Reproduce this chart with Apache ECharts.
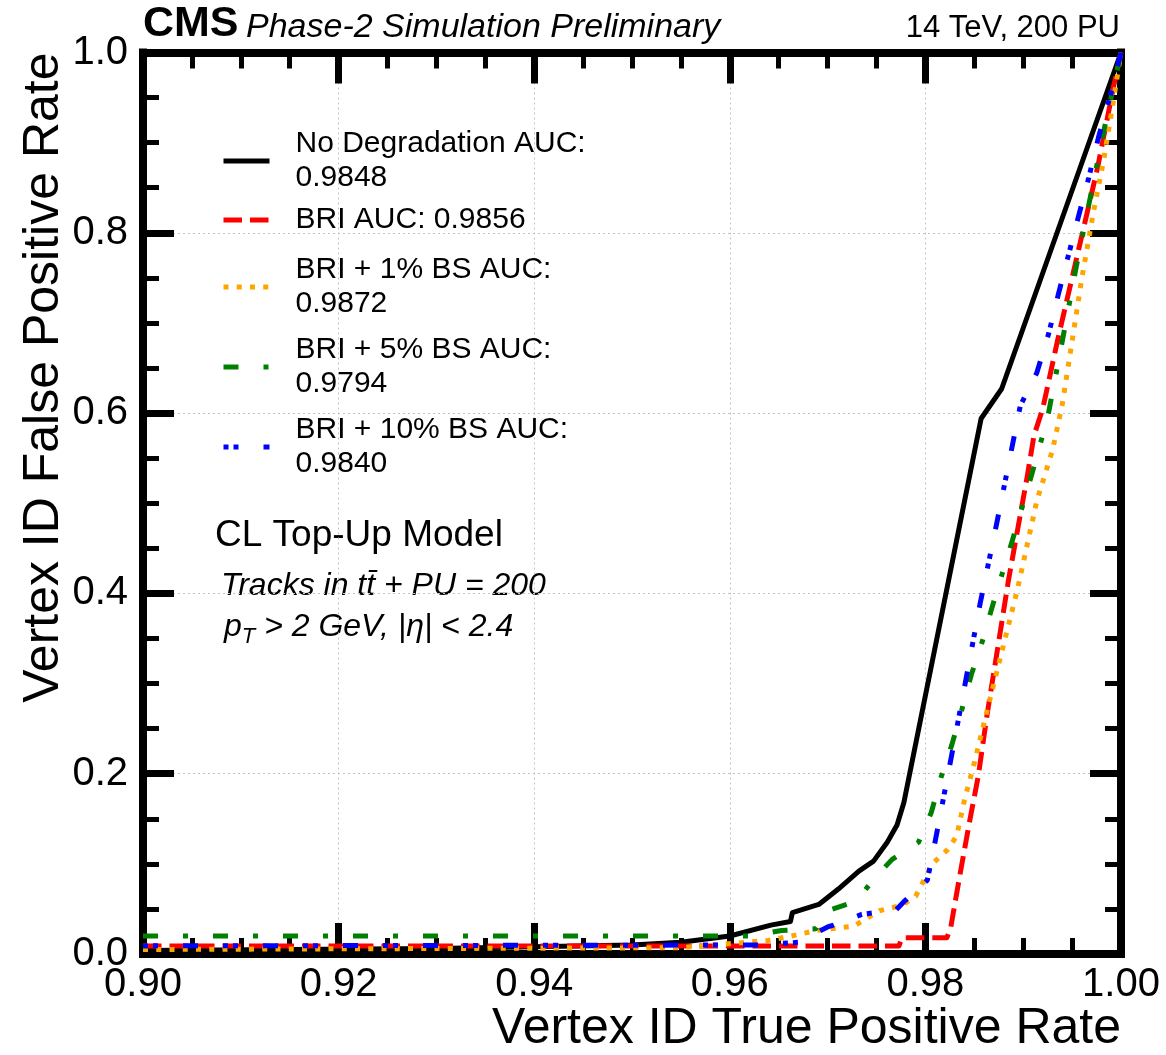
<!DOCTYPE html>
<html>
<head>
<meta charset="utf-8">
<title>Vertex ID ROC curves</title>
<script src="https://cdn.jsdelivr.net/npm/echarts@6/dist/echarts.min.js"></script>
<style>
  html, body { margin: 0; padding: 0; background: #ffffff; }
  #chart { width: 1166px; height: 1055px; }
</style>
</head>
<body>
<div id="chart"></div>
<script>
// ROC curves: vertex ID false positive rate vs. true positive rate

// Axis ticks
const xTicks = [0.90, 0.92, 0.94, 0.96, 0.98, 1.00];
const yTicks = [0.0, 0.2, 0.4, 0.6, 0.8, 1.0];

// Legend text
const curveNames = ['No Degradation', 'BRI', 'BRI + 1% BS', 'BRI + 5% BS', 'BRI + 10% BS'];
const aucValues = ['0.9848', '0.9856', '0.9872', '0.9794', '0.9840'];

// No degradation
const tprNoDeg = [0.900, 0.930, 0.950, 0.955, 0.960, 0.9642, 0.9662, 0.9664, 0.9691, 0.9711, 0.9732, 0.9747, 0.9761, 0.9771, 0.9778, 0.9857, 0.9878, 1.000];
const fprNoDeg = [0.004, 0.006, 0.010, 0.013, 0.020, 0.032, 0.036, 0.046, 0.055, 0.072, 0.092, 0.103, 0.124, 0.143, 0.168, 0.594, 0.627, 1.000];

// BRI
const tprBri = [0.900, 0.960, 0.9773, 0.9776, 0.9822, 0.9826, 0.9835, 0.9845, 0.9854, 0.9863, 0.9885, 0.9904, 0.9911, 0.9920, 0.9935, 0.9957, 0.9976, 0.9992, 1.000];
const fprBri = [0.009, 0.009, 0.009, 0.018, 0.018, 0.030, 0.086, 0.146, 0.197, 0.265, 0.415, 0.529, 0.575, 0.605, 0.680, 0.783, 0.872, 0.960, 1.000];

// BRI + 1% BS
const tprBri1 = [0.900, 0.955, 0.9639, 0.9663, 0.9688, 0.9727, 0.9753, 0.9776, 0.9790, 0.9807, 0.9823, 0.9832, 0.9840, 0.9850, 0.9864, 0.9894, 0.9914, 0.9930, 0.9940, 0.9950, 0.9960, 0.9972, 0.9982, 0.9991, 1.000];
const fprBri1 = [0.005, 0.007, 0.015, 0.020, 0.026, 0.031, 0.048, 0.054, 0.064, 0.100, 0.116, 0.131, 0.171, 0.212, 0.274, 0.404, 0.503, 0.559, 0.610, 0.680, 0.750, 0.824, 0.879, 0.938, 1.000];

// BRI + 5% BS
const tprBri5 = [0.900, 0.962, 0.9653, 0.9688, 0.9700, 0.9730, 0.9747, 0.9766, 0.9793, 0.9806, 0.9816, 0.9827, 0.9837, 0.9847, 0.9858, 0.9868, 0.9878, 0.9889, 0.9909, 0.9925, 0.9940, 0.9954, 0.9968, 0.9983, 1.000];
const fprBri5 = [0.020, 0.020, 0.026, 0.028, 0.048, 0.059, 0.083, 0.105, 0.124, 0.157, 0.196, 0.232, 0.270, 0.310, 0.346, 0.384, 0.420, 0.459, 0.533, 0.595, 0.680, 0.761, 0.836, 0.916, 1.000];

// BRI + 10% BS
const tprBri10 = [0.900, 0.963, 0.967, 0.970, 0.9706, 0.9735, 0.9770, 0.9778, 0.9802, 0.9810, 0.9825, 0.9840, 0.9856, 0.9873, 0.9897, 0.9914, 0.9926, 0.9936, 0.9946, 0.9956, 0.9967, 0.9977, 0.9988, 1.000];
const fprBri10 = [0.009, 0.010, 0.013, 0.030, 0.032, 0.044, 0.049, 0.058, 0.082, 0.125, 0.210, 0.296, 0.389, 0.478, 0.608, 0.645, 0.688, 0.732, 0.774, 0.816, 0.861, 0.906, 0.948, 1.000];

const FONT = '"Liberation Sans", Arial, Helvetica, sans-serif';
const LW = 5;

const curves = [
  { tpr: tprNoDeg, fpr: fprNoDeg, color: '#000000', dash: 'solid' },
  { tpr: tprBri,   fpr: fprBri,   color: '#ff0000', dash: [18.5, 8] },
  { tpr: tprBri1,  fpr: fprBri1,  color: '#ffa500', dash: [5, 8.25] },
  { tpr: tprBri5,  fpr: fprBri5,  color: '#008000', dash: [15, 25, 5, 25] },
  { tpr: tprBri10, fpr: fprBri10, color: '#0000ff', dash: [5, 5, 5, 25, 15, 25] }
];
curves.forEach((c, i) => {
  c.name = curveNames[i];
  c.label = i === 1 ? curveNames[i] + ' AUC: ' + aucValues[i]
                    : curveNames[i] + ' AUC:\n' + aucValues[i];
});

// top edge of each legend entry
const legendTops = [127, 203, 253, 333, 413];

const frameLine = { color: '#000', width: 8, cap: 'square' };
const majorTick = { show: true, inside: true, length: 31, lineStyle: { color: '#000', width: 7 } };
const minorTick = { show: true, splitNumber: 4, length: 16, lineStyle: { color: '#000', width: 5 } };
const gridLine = { show: true, lineStyle: { color: '#c2c2c2', width: 1, type: [2, 3] } };
const tickFont = { color: '#000', fontFamily: FONT, fontSize: 40 };
const titleFont = { color: '#000', fontFamily: FONT, fontSize: 50 };

function xAxisDef(position, main) {
  return {
    type: 'value', position: position,
    min: xTicks[0], max: xTicks[xTicks.length - 1], interval: xTicks[1] - xTicks[0],
    axisLine: { show: true, onZero: false, lineStyle: frameLine },
    axisTick: majorTick, minorTick: minorTick,
    axisLabel: main ? Object.assign({ show: true, margin: 11, formatter: v => v.toFixed(2) }, tickFont) : { show: false },
    splitLine: main ? gridLine : { show: false },
    minorSplitLine: { show: false },
    axisPointer: { show: false },
    name: main ? 'Vertex ID True Positive Rate' : '',
    nameLocation: 'end', nameGap: 0, nameMoveOverlap: false,
    nameTextStyle: Object.assign({ align: 'right', verticalAlign: 'top', padding: [50, 0, 0, 0] }, titleFont)
  };
}
function yAxisDef(position, main) {
  return {
    type: 'value', position: position,
    min: yTicks[0], max: yTicks[yTicks.length - 1], interval: yTicks[1] - yTicks[0],
    axisLine: { show: true, onZero: false, lineStyle: frameLine },
    axisTick: majorTick, minorTick: minorTick,
    axisLabel: main ? Object.assign({ show: true, margin: 15, formatter: v => v.toFixed(1) }, tickFont) : { show: false },
    splitLine: main ? gridLine : { show: false },
    minorSplitLine: { show: false },
    axisPointer: { show: false },
    name: main ? 'Vertex ID False Positive Rate' : '',
    nameLocation: 'end', nameGap: 0, nameRotate: 90, nameMoveOverlap: false,
    nameTextStyle: Object.assign({ align: 'right', verticalAlign: 'bottom', padding: [0, 0, 74, 0] }, titleFont)
  };
}

const chart = echarts.init(document.getElementById('chart'), null, { renderer: 'canvas' });

chart.setOption({
  animation: false,
  backgroundColor: '#ffffff',
  textStyle: { fontFamily: FONT, color: '#000' },
  grid: { left: 143, right: 45, top: 52.5, bottom: 101, containLabel: false, outerBoundsMode: 'none' },
  xAxis: [xAxisDef('bottom', true), xAxisDef('top', false)],
  yAxis: [yAxisDef('left', true), yAxisDef('right', false)],
  legend: curves.map((c, i) => ({
    data: [c.name],
    left: 221, top: legendTops[i], padding: 0,
    itemWidth: 46, itemHeight: 10,
    selectedMode: false,
    formatter: () => c.label,
    textStyle: { fontFamily: FONT, fontSize: 30, lineHeight: 34, color: '#000', padding: [0, 0, 0, 21] },
    itemStyle: { opacity: 0 },
    lineStyle: { width: LW, type: c.dash, color: c.color, cap: 'butt' }
  })),
  series: curves.map(c => ({
    type: 'line', name: c.name,
    xAxisIndex: 0, yAxisIndex: 0,
    data: c.tpr.map((x, i) => [x, c.fpr[i]]),
    symbol: 'none', silent: true, clip: true,
    itemStyle: { color: c.color },
    lineStyle: { color: c.color, width: LW, type: c.dash, cap: 'butt', join: 'round' }
  })),
  graphic: [
    { type: 'text', x: 143, y: 24, style: { text: 'CMS', font: 'bold 43px ' + FONT, fill: '#000', verticalAlign: 'middle' } },
    { type: 'text', x: 246, y: 27.1, style: { text: 'Phase-2 Simulation Preliminary', font: 'italic 34px ' + FONT, fill: '#000', verticalAlign: 'middle' } },
    { type: 'text', x: 1120, y: 28.1, style: { text: '14 TeV, 200 PU', font: '31px ' + FONT, fill: '#000', align: 'right', verticalAlign: 'middle' } },
    { type: 'text', x: 215, y: 536, style: { text: 'CL Top-Up Model', font: '37px ' + FONT, fill: '#000', verticalAlign: 'middle' } },
    { type: 'text', x: 221, y: 586, style: { text: 'Tracks in tt\u0304 + PU = 200', font: 'italic 32px ' + FONT, fill: '#000', verticalAlign: 'middle' } },
    { type: 'text', x: 224, y: 647.8, style: {
        text: '{m|p}{s|T}{m| > 2 GeV, |\u03b7| < 2.4}',
        verticalAlign: 'bottom', fill: '#000',
        rich: {
          m: { font: 'italic 32px ' + FONT, padding: [0, 0, 5, 0], verticalAlign: 'bottom', fill: '#000' },
          s: { font: 'italic 22px ' + FONT, verticalAlign: 'bottom', fill: '#000' }
        }
    } }
  ]
});
</script>
</body>
</html>
